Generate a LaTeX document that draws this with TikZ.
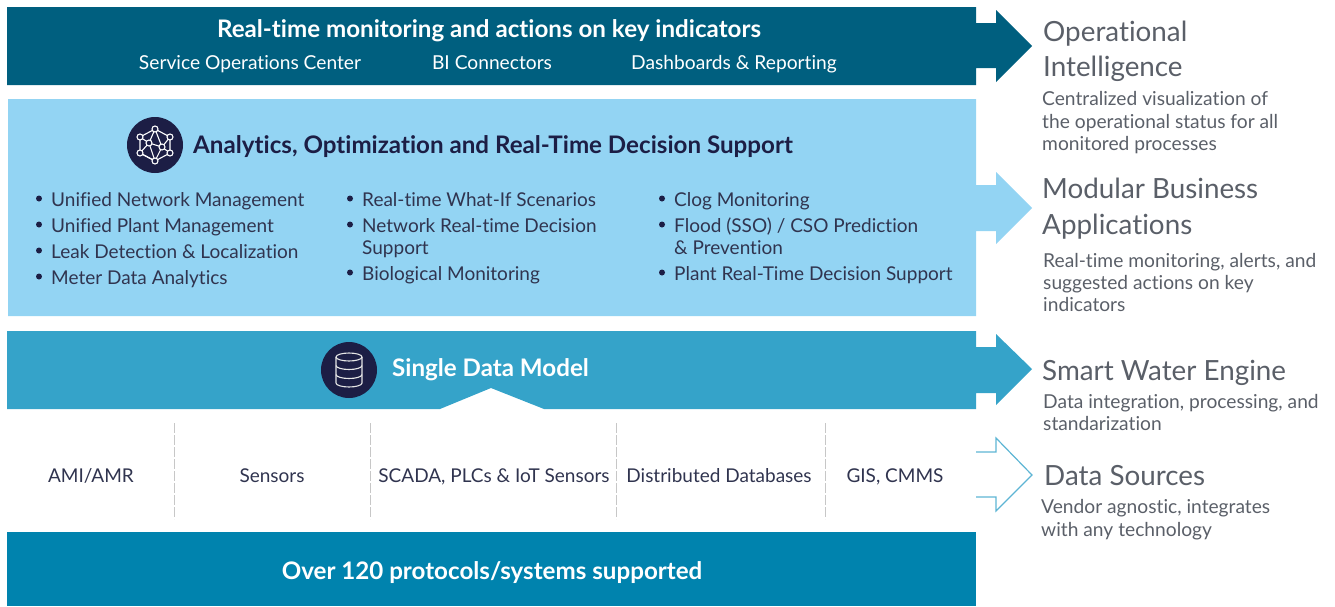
\documentclass[tikz,border=0pt]{standalone}
\usepackage{fontspec}
\setmainfont[Ligatures=CommonOff]{Lato}
\definecolor{topteal}{HTML}{005F7F}
\definecolor{lightsky}{HTML}{93D4F3}
\definecolor{midblue}{HTML}{35A3C9}
\definecolor{basegreen}{HTML}{0083AE}
\definecolor{navy}{HTML}{1C1E45}
\definecolor{bodyink}{HTML}{30344F}
\definecolor{sideink}{HTML}{5A5F68}
\tikzset{
 title/.style={anchor=base,inner sep=0pt,font=\fontsize{24.15}{27}\selectfont\bfseries},
 label/.style={anchor=base west,inner sep=0pt,text=bodyink,font=\fontsize{19}{22}\selectfont},
 whitelabel/.style={anchor=base,inner sep=0pt,text=white,font=\fontsize{19.2}{22}\selectfont},
 sourcelabel/.style={anchor=base,inner sep=0pt,text=bodyink,font=\fontsize{19}{22}\selectfont},
 head/.style={anchor=base west,inner sep=0pt,text=sideink,font=\fontsize{27.8}{32}\selectfont},
 note/.style={anchor=base west,inner sep=0pt,text=sideink,font=\fontsize{19.2}{22}\selectfont},
 }
\begin{document}
\begin{tikzpicture}[x=1pt,y=-1pt]
        \useasboundingbox (0, 0) rectangle (1335, 606);
        % bands with their arrows
        \fill[topteal] (7, 7) -- (976, 7) -- (976, 23) -- (996, 23) -- (996, 10) -- (1032, 46)
            -- (996, 82) -- (996, 68) -- (976, 68) -- (976, 85) -- (7, 85) -- cycle;
        \fill[lightsky] (8, 99) -- (976, 99) -- (976, 185) -- (996, 185) -- (996, 172) -- (1032, 208)
            -- (996, 244) -- (996, 231) -- (976, 231) -- (976, 316) -- (8, 316) -- cycle;
        \fill[midblue] (7, 331) -- (976, 331) -- (976, 347) -- (996, 347) -- (996, 334) -- (1032, 369)
            -- (996, 405) -- (996, 393) -- (976, 393) -- (976, 409) -- (544, 409) -- (491, 388)
            -- (440, 409) -- (7, 409) -- cycle;
        \fill[basegreen] (7, 532) rectangle (976, 606);
        \draw[midblue!80!white, line width=1.2pt] (976, 452) -- (996, 452) -- (996, 438) -- (1032, 475)
            -- (996, 511) -- (996, 497) -- (976, 497);

        % top band
        \node[title, text=white] (monitoring) at (489, 37) {Real-time monitoring and actions on key indicators};
        \node[whitelabel] (soc) at (250, 69) {Service Operations Center};
        \node[whitelabel] (connectors) at (492, 69) {BI Connectors};
        \node[whitelabel] (dashboards) at (734, 69) {Dashboards \& Reporting};

        % analytics band
        \node[circle, fill=navy, minimum size=56pt, inner sep=0pt] (analyticsicon) at (155, 145) {};
        \begin{scope}[shift={(155, 145)}, white, line width=1.1pt]
            \draw (0, -16) -- (15, -8) -- (15, 8) -- (0, 16) -- (-15, 8) -- (-15, -8) -- cycle;
            \draw (0, -16) -- (-6, -2) -- (-15, 8) (0, -16) -- (7, 2) -- (15, 8) (-15, -8) -- (-6, -2)
                -- (0, 16) -- (7, 2) -- (15, -8) (-6, -2) -- (7, 2) (-15, 8) -- (0, 16);
            \foreach \x/\y in {0/-16, 15/-8, 15/8, 0/16, -15/8, -15/-8, -6/-2, 7/2} {
                \filldraw[fill=navy] (\x, \y) circle (3pt);
            }
        \end{scope}
        \node[title, anchor=base west, text=navy] (analytics) at (193, 153)
            {Analytics, Optimization and Real-Time Decision Support};
        \foreach \x/\y/\t in {51/206/Unified Network Management, 51/232/Unified Plant Management,
            51/258/Leak Detection \& Localization, 51/284/Meter Data Analytics,
            362/206/Real-time What-If Scenarios, 362/232/Network Real-time Decision,
            362/280/Biological Monitoring, 674/206/Clog Monitoring,
            674/232/{Flood (SSO) / CSO Prediction}, 674/280/Plant Real-Time Decision Support} {
            \fill[navy] (\x-12, \y-7.5) circle (3pt);
            \node[label] at (\x, \y) {\t};
        }
        \node[label] (support) at (362, 254) {Support};
        \node[label] (prevention) at (674, 254) {\& Prevention};

        % data model band
        \node[circle, fill=navy, minimum size=56pt, inner sep=0pt] (dataicon) at (349, 370) {};
        \begin{scope}[shift={(349, 370)}, white!90!black, line width=1.1pt]
            \draw (0, -13) ellipse (13pt and 4pt);
            \draw (-13, -13) -- (-13, 13) arc (180:360:13pt and 4pt) -- (13, -13);
            \draw (-13, -4.5) arc (180:360:13pt and 4pt) (-13, 4.5) arc (180:360:13pt and 4pt);
        \end{scope}
        \node[title, anchor=base west, text=white] (datamodel) at (392, 376) {Single Data Model};

        % sources row
        \foreach \x in {174, 370, 616, 825} {
            \draw[black!22, line width=.9pt, dash pattern=on 10pt off 2pt] (\x, 423) -- (\x, 519);
        }
        \node[sourcelabel] (amr) at (91, 482) {AMI/AMR};
        \node[sourcelabel] (sensors) at (272, 482) {Sensors};
        \node[sourcelabel] (scada) at (494, 482) {SCADA, PLCs \& IoT Sensors};
        \node[sourcelabel] (databases) at (719, 482) {Distributed Databases};
        \node[sourcelabel] (gis) at (895, 482) {GIS, CMMS};
        \node[title, text=white] (protocols) at (492, 579) {Over 120 protocols/systems supported};

        % right column
        \node[head] (operational) at (1043, 41) {Operational};
        \node[head] (intelligence) at (1043, 76) {Intelligence};
        \node[note] (opnotea) at (1042, 105) {Centralized visualization of};
        \node[note] (opnoteb) at (1042, 128) {the operational status for all};
        \node[note] (opnotec) at (1042, 150) {monitored processes};
        \node[head] (modular) at (1042, 198) {Modular Business};
        \node[head] (applications) at (1042, 234) {Applications};
        \node[note] (modnotea) at (1043, 267) {Real-time monitoring, alerts, and};
        \node[note] (modnoteb) at (1043, 289) {suggested actions on key};
        \node[note] (modnotec) at (1043, 311) {indicators};
        \node[head] (engine) at (1042, 380) {Smart Water Engine};
        \node[note] (engnotea) at (1043, 408) {Data integration, processing, and};
        \node[note] (engnoteb) at (1043, 430) {standarization};
        \node[head] (datasources) at (1044, 485) {Data Sources};
        \node[note] (srcnotea) at (1041, 513) {Vendor agnostic, integrates};
        \node[note] (srcnoteb) at (1041, 536) {with any technology};
    \end{tikzpicture}
\end{document}
